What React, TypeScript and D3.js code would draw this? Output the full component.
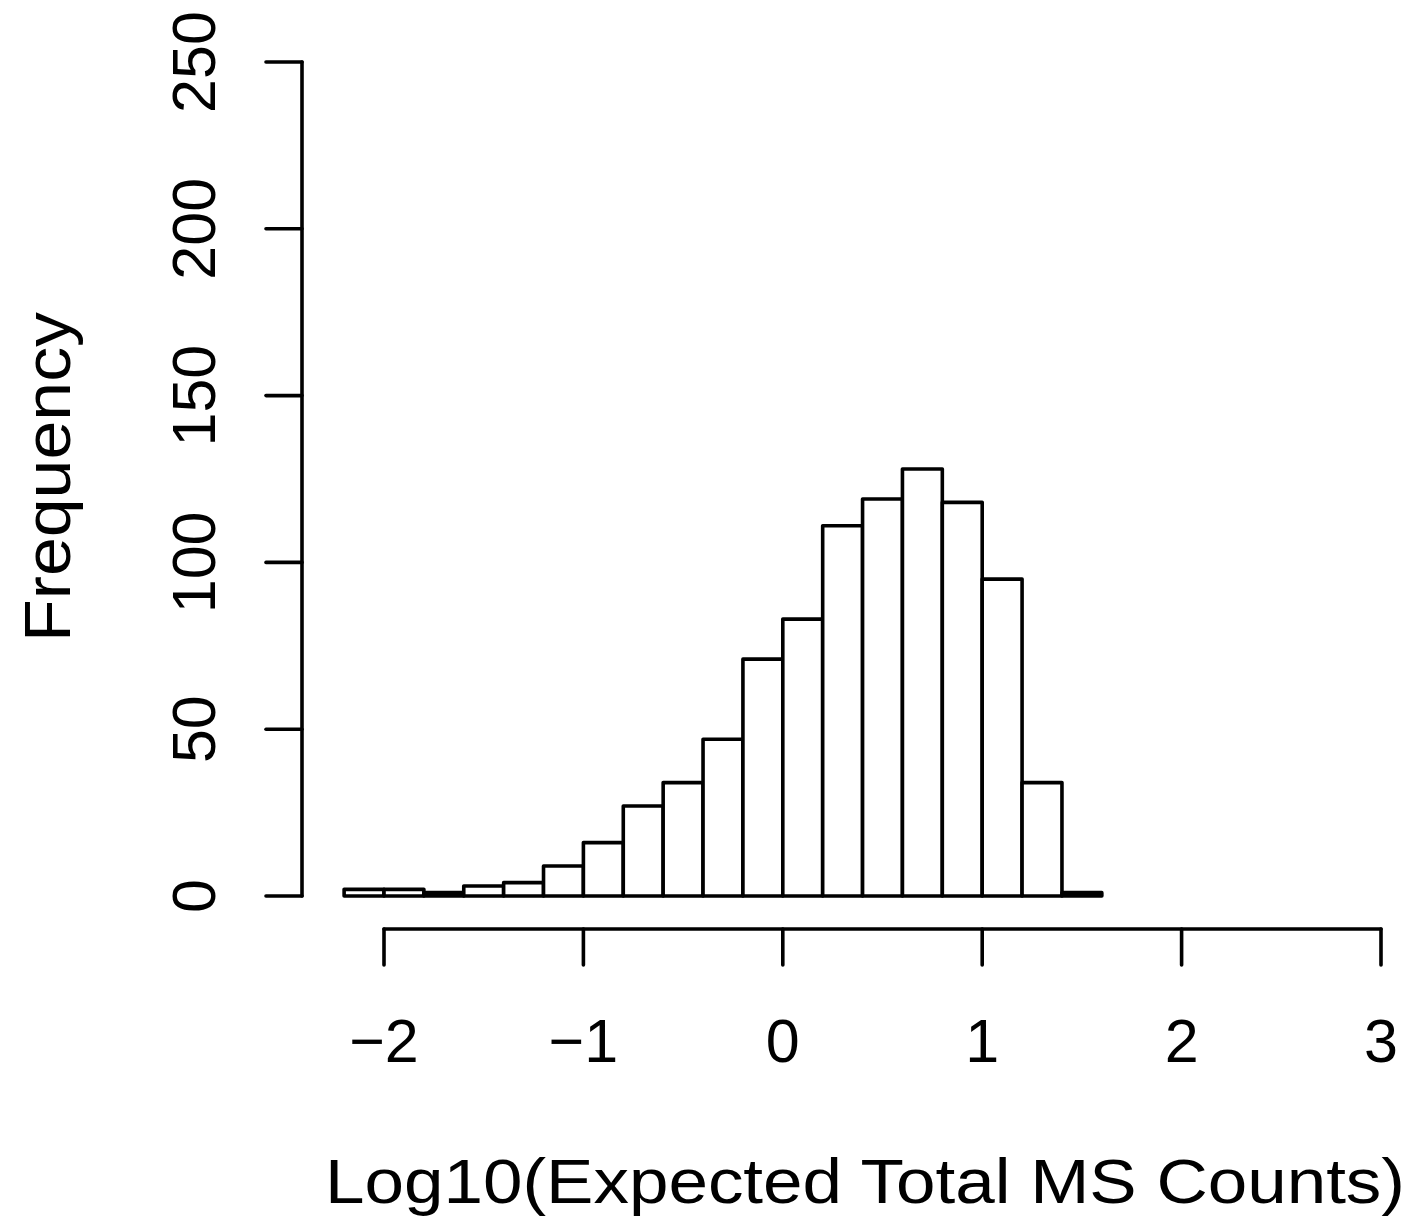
import React from "react";
import * as d3 from "d3";

// Histogram bins (left edges, width 0.2) and counts
const binStarts = [-2.2, -2.0, -1.8, -1.6, -1.4, -1.2, -1.0, -0.8, -0.6, -0.4, -0.2, 0.0, 0.2, 0.4, 0.6, 0.8, 1.0, 1.2, 1.4];
const binWidth = 0.2;
const counts = [2, 2, 1, 3, 4, 9, 16, 27, 34, 47, 71, 83, 111, 119, 128, 118, 95, 34, 1];

const xTicks = [-2, -1, 0, 1, 2, 3];
const yTicks = [0, 50, 100, 150, 200, 250];

const xTitle = "Log10(Expected Total MS Counts)";
const yTitle = "Frequency";

const W = 1414;
const H = 1223;
const FONT = "'Liberation Sans', Arial, Helvetica, sans-serif";
const FS = 61;
const FS_TITLE = 63;
const LW = 3.6;

export default function App() {
  const x = d3.scaleLinear().domain([-2, 3]).range([384, 1381]);
  const y = d3.scaleLinear().domain([0, 250]).range([896, 62]);

  const axisY = 929;
  const axisX = 302;
  const tickLen = 36;

  const fmt = (v: number) => (v < 0 ? "\u2212" + Math.abs(v) : String(v));

  return (
    <svg
      width={W}
      height={H}
      style={{ position: "absolute", left: 0, top: 0, background: "#fff" }}
      fontFamily={FONT}
    >
      <rect x={0} y={0} width={W} height={H} fill="#fff" />
      {/* bars */}
      {counts.map((c, i) => {
        const x0 = x(binStarts[i]);
        const x1 = x(binStarts[i] + binWidth);
        return (
          <rect
            key={i}
            x={x0}
            y={y(c)}
            width={x1 - x0}
            height={y(0) - y(c)}
            fill="#fff"
            stroke="#000"
            strokeWidth={LW}
            strokeLinejoin="round"
          />
        );
      })}

      {/* x axis */}
      <line x1={x(xTicks[0])} x2={x(xTicks[xTicks.length - 1])} y1={axisY} y2={axisY} stroke="#000" strokeWidth={LW} strokeLinecap="round" />
      {xTicks.map((t) => (
        <g key={t}>
          <line x1={x(t)} x2={x(t)} y1={axisY} y2={axisY + tickLen} stroke="#000" strokeWidth={LW} strokeLinecap="round" />
          <text x={x(t)} y={1062} fontSize={FS} textAnchor="middle" fill="#000">
            {fmt(t)}
          </text>
        </g>
      ))}

      {/* y axis */}
      <line x1={axisX} x2={axisX} y1={y(yTicks[0])} y2={y(yTicks[yTicks.length - 1])} stroke="#000" strokeWidth={LW} strokeLinecap="round" />
      {yTicks.map((t) => (
        <g key={t}>
          <line x1={axisX} x2={axisX - tickLen} y1={y(t)} y2={y(t)} stroke="#000" strokeWidth={LW} strokeLinecap="round" />
          <text
            transform={`translate(215,${y(t)}) rotate(-90)`}
            fontSize={FS}
            textAnchor="middle"
            fill="#000"
          >
            {fmt(t)}
          </text>
        </g>
      ))}

      {/* titles */}
      <text
        x={865}
        y={1203}
        fontSize={FS_TITLE}
        textAnchor="middle"
        textLength={1080}
        lengthAdjust="spacingAndGlyphs"
        fill="#000"
      >
        {xTitle}
      </text>
      <text
        transform={`translate(70,477) rotate(-90)`}
        fontSize={FS_TITLE + 1}
        textAnchor="middle"
        textLength={330}
        lengthAdjust="spacingAndGlyphs"
        fill="#000"
      >
        {yTitle}
      </text>
    </svg>
  );
}
